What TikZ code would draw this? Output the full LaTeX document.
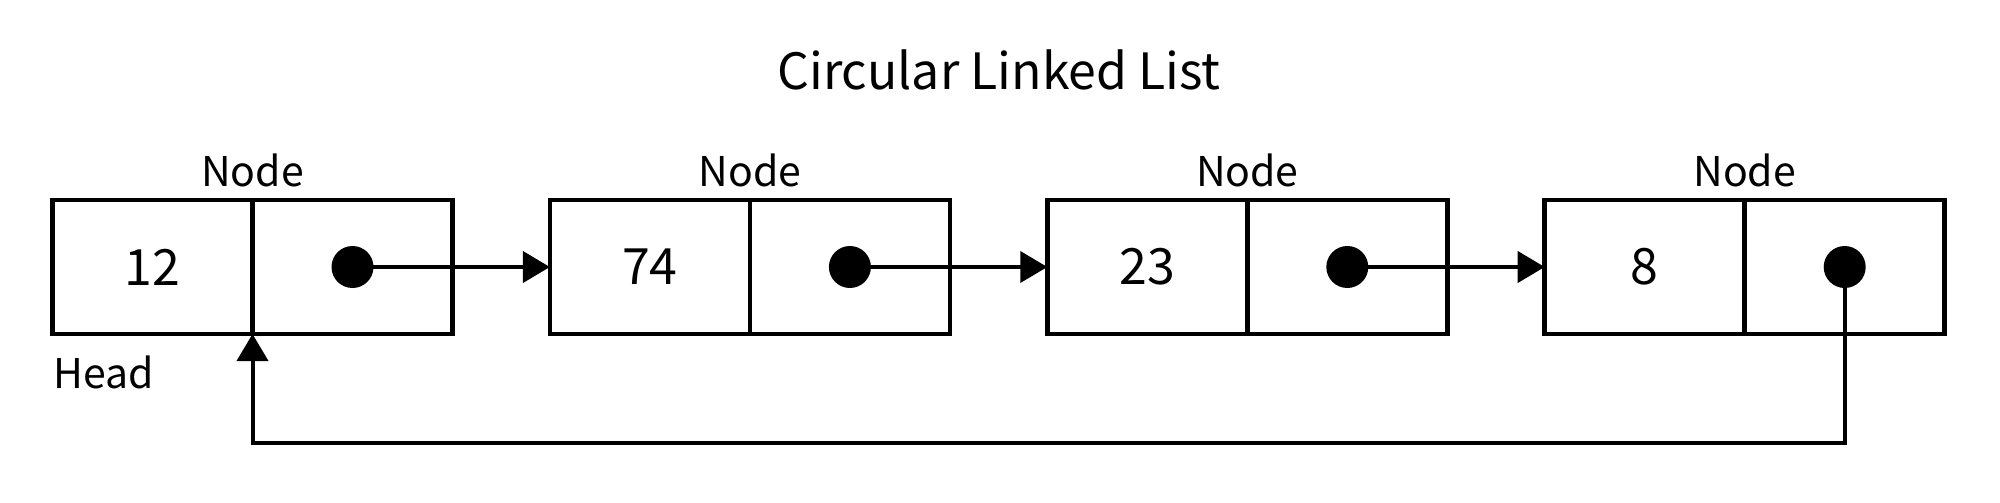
\documentclass[tikz,border=0pt]{standalone}
\usepackage{fontspec}
\setmainfont{Noto Sans CJK KR}
\usetikzlibrary{arrows.meta}
\begin{document}
\begin{tikzpicture}[x=1pt,y=-1pt,
  cell/.style={draw, line width=4.7pt, minimum width=200pt, minimum height=134pt, inner sep=0pt, outer sep=0pt, font=\fontsize{50}{54}\selectfont},
  dotnode/.style={circle, fill=black, minimum size=42pt, inner sep=0pt},
  conn/.style={line width=4pt, -{Triangle[length=27pt,width=31pt]}},
  lbl/.style={font=\fontsize{41}{45}\selectfont, inner sep=0pt},
  ttl/.style={font=\fontsize{50}{56}\selectfont, inner sep=0pt}]
\useasboundingbox (0,0) rectangle (2000,503);
\node[ttl] (title) at (999,70) {Circular Linked List};
% cells
\node[cell] (d1) at (152.5,267) {12};
\node[cell] (p1) at (352.5,267) {};
\node[cell] (d2) at (649.9,267) {74};
\node[cell] (p2) at (849.9,267) {};
\node[cell] (d3) at (1147.3,267) {23};
\node[cell] (p3) at (1347.3,267) {};
\node[cell] (d4) at (1644.7,267) {8};
\node[cell] (p4) at (1844.7,267) {};
% labels
\node[lbl] (n1) at (252.5,170) {Node};
\node[lbl] (n2) at (749.9,170) {Node};
\node[lbl] (n3) at (1247.3,170) {Node};
\node[lbl] (n4) at (1744.7,170) {Node};
\node[lbl, anchor=west] (head) at (53,372) {Head};
% connectors
\coordinate (ret) at (0,443);
\draw[conn] (p1.center) -- (d2.west);
\draw[conn] (p2.center) -- (d3.west);
\draw[conn] (p3.center) -- (d4.west);
\draw[conn] (p4.center) -- (p4.center |- ret) -- (d1.south east |- ret) -- (d1.south east);
% dots
\node[dotnode] (q1) at (p1.center) {};
\node[dotnode] (q2) at (p2.center) {};
\node[dotnode] (q3) at (p3.center) {};
\node[dotnode] (q4) at (p4.center) {};
\end{tikzpicture}
\end{document}
